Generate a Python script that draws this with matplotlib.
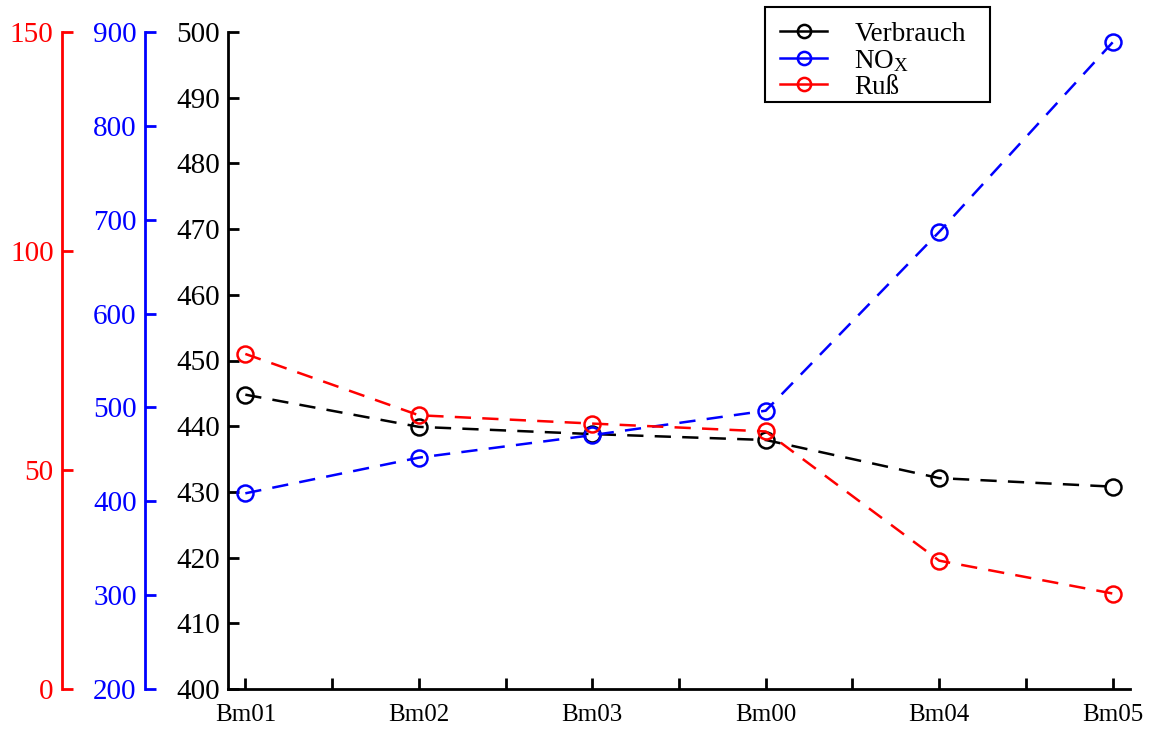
import matplotlib
matplotlib.use("Agg")
import matplotlib.pyplot as plt
from matplotlib.lines import Line2D
from matplotlib.patches import Rectangle

plt.rcParams['font.family'] = ['Liberation Serif', 'DejaVu Serif']
plt.rcParams['mathtext.fontset'] = 'custom'
plt.rcParams['mathtext.rm'] = 'Liberation Serif'
plt.rcParams['mathtext.it'] = 'Liberation Serif'

# Operating points and measured quantities
categories = ["Bm01", "Bm02", "Bm03", "Bm00", "Bm04", "Bm05"]
verbrauch = [444.8, 439.9, 438.8, 437.9, 432.1, 430.8]
nox = [408.5, 446.5, 470.5, 496.5, 687.0, 889.0]
russ = [76.5, 62.5, 60.6, 58.8, 29.3, 21.8]

verbrauch_ticks = list(range(400, 501, 10))
nox_ticks = list(range(200, 901, 100))
russ_ticks = [0, 50, 100, 150]

YFS = 21
XFS = 18
LFS = 19.5
LW = 1.8
MS = 11.5
DASH = (6.5, 4.5)

W, H = 1152, 729
fig = plt.figure(figsize=(W / 100, H / 100), dpi=100)
ax = fig.add_axes([228 / W, 1 - 689 / H, (1130 - 228) / W, (689 - 32) / H])
ax_nox = ax.twinx()
ax_russ = ax.twinx()

x = list(range(len(categories)))

def style_left_axis(a, color, offset_px, ticks, lim):
    for s in ("top", "right", "bottom"):
        a.spines[s].set_visible(False)
    a.spines["left"].set_visible(True)
    a.spines["left"].set_color(color)
    a.spines["left"].set_linewidth(2)
    a.spines["left"].set_position(("outward", offset_px * 72 / 100))
    a.yaxis.set_ticks_position("left")
    a.yaxis.set_label_position("left")
    a.set_ylim(*lim)
    a.set_yticks(ticks)
    a.tick_params(axis="y", direction="in", length=8, width=2, colors=color,
                  labelsize=YFS, pad=6)
    a.patch.set_visible(False)

style_left_axis(ax_nox, "#0000ff", 83, nox_ticks, (200, 900))
style_left_axis(ax_russ, "#ff0000", 166, russ_ticks, (0, 150))

for s in ("top", "right"):
    ax.spines[s].set_visible(False)
for s in ("left", "bottom"):
    ax.spines[s].set_linewidth(2)
ax.set_ylim(400, 500)
ax.set_yticks(verbrauch_ticks)
ax.set_xlim(-0.1, len(categories) - 0.9)
ax.set_xticks(x)
ax.set_xticklabels(categories)
ax.set_xticks([i + 0.5 for i in x[:-1]], minor=True)
ax.tick_params(axis="y", which="major", direction="in", length=8, width=2,
               labelsize=YFS, pad=6)
ax.tick_params(axis="x", which="major", direction="in", length=8, width=2,
               labelsize=XFS, pad=11)
ax.tick_params(axis="x", which="minor", direction="in", length=8, width=2)

common = dict(marker="o", markersize=MS, markerfacecolor="none",
              markeredgewidth=LW, linewidth=LW, dashes=DASH)
ax.plot(x, verbrauch, color="black", **common, zorder=3)
ax_russ.plot(x, russ, color="#ff0000", **common, zorder=3)
ax_nox.plot(x, nox, color="#0000ff", **common, zorder=3)

# Legend box drawn as a plain rectangle behind the entries
fig.patches.append(Rectangle((765 / W, 1 - 102 / H), 225 / W, 95 / H,
                             transform=fig.transFigure, facecolor="white",
                             edgecolor="black", linewidth=1.5, zorder=5))

handles = [
    Line2D([], [], color=c, marker="o", markersize=9.5, markerfacecolor="none",
           markeredgewidth=LW, linewidth=LW)
    for c in ("black", "#0000ff", "#ff0000")
]
labels = ["Verbrauch", r"NO$_\mathrm{X}$", "Ruß"]
leg = fig.legend(handles, labels, loc="upper left", mode="expand",
                 bbox_to_anchor=(765 / W, 1 - 102 / H, 225 / W, 95 / H),
                 fontsize=LFS, frameon=False, borderaxespad=0, handlelength=1.75,
                 labelspacing=0.04, borderpad=0.55, handletextpad=1.0)
leg.set_zorder(6)

fig.savefig("out.png", dpi=100)
